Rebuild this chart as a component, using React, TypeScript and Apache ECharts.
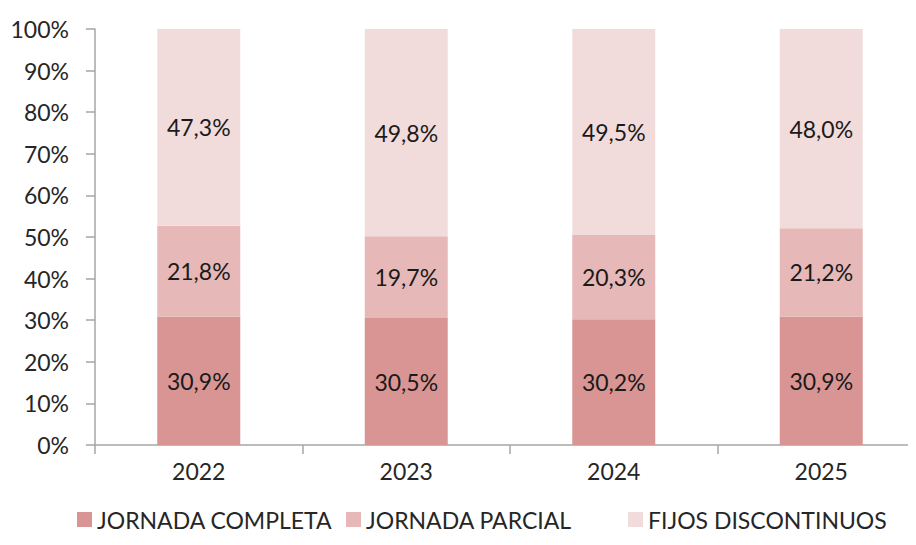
import React, { useEffect, useRef } from "react";
import * as echarts from "echarts";

const categories = ["2022", "2023", "2024", "2025"];
const completa = [30.9, 30.5, 30.2, 30.9];
const parcial = [21.8, 19.7, 20.3, 21.2];
const fijos = [47.3, 49.8, 49.5, 48.0];
const seriesNames = ["JORNADA COMPLETA", "JORNADA PARCIAL", "FIJOS DISCONTINUOS"];
const colors = ["#d99594", "#e6b8b7", "#f2dcdb"];

const FONT = "Lato";
const legendLefts = [77, 346, 628];

export default function App() {
  const ref = useRef<HTMLDivElement>(null);
  useEffect(() => {
    if (!ref.current) return;
    const chart = echarts.init(ref.current, null, { renderer: "svg" });
    const fmt = (p: any) => p.value.toFixed(1).replace(".", ",") + "%";
    const mk = (name: string, data: number[], color: string) => ({
      name,
      type: "bar",
      stack: "total",
      data,
      barWidth: "40%",
      itemStyle: { color },
      label: {
        show: true,
        position: "inside",
        formatter: fmt,
        color: "#1a1a1a",
        fontFamily: FONT,
        fontSize: 23,
      },
    });
    chart.setOption({
      animation: false,
      grid: { left: 95, right: 5, top: 29, bottom: 100 },
      legend: seriesNames.map((n, i) => ({
        top: 508,
        left: legendLefts[i],
        padding: 0,
        itemWidth: 15,
        itemHeight: 15,
        itemGap: 0,
        icon: "rect",
        textStyle: { fontFamily: FONT, fontSize: 23, color: "#262626" },
        data: [n],
      })),
      xAxis: {
        type: "category",
        data: categories,
        axisLine: { lineStyle: { color: "#a6a6a6", width: 1.5 } },
        axisTick: { show: true, length: 9, lineStyle: { color: "#a6a6a6", width: 1.5 } },
        axisLabel: { fontFamily: FONT, fontSize: 23, color: "#262626", margin: 14 },
      },
      yAxis: {
        type: "value",
        min: 0,
        max: 100,
        interval: 10,
        axisLine: { show: true, lineStyle: { color: "#a6a6a6", width: 1.5 } },
        axisTick: { show: true, length: 9, lineStyle: { color: "#a6a6a6", width: 1.5 } },
        splitLine: { show: false },
        axisLabel: {
          fontFamily: FONT,
          fontSize: 23,
          color: "#262626",
          margin: 26,
          formatter: (v: number) => v + "%",
        },
      },
      series: [
        mk(seriesNames[0], completa, colors[0]),
        mk(seriesNames[1], parcial, colors[1]),
        mk(seriesNames[2], fijos, colors[2]),
      ],
    });
    return () => chart.dispose();
  }, []);
  return (
    <div style={{ width: 916, height: 545, margin: -8, overflow: "hidden", position: "relative" }}>
      <div ref={ref} style={{ width: 930, height: 545 }} />
    </div>
  );
}
